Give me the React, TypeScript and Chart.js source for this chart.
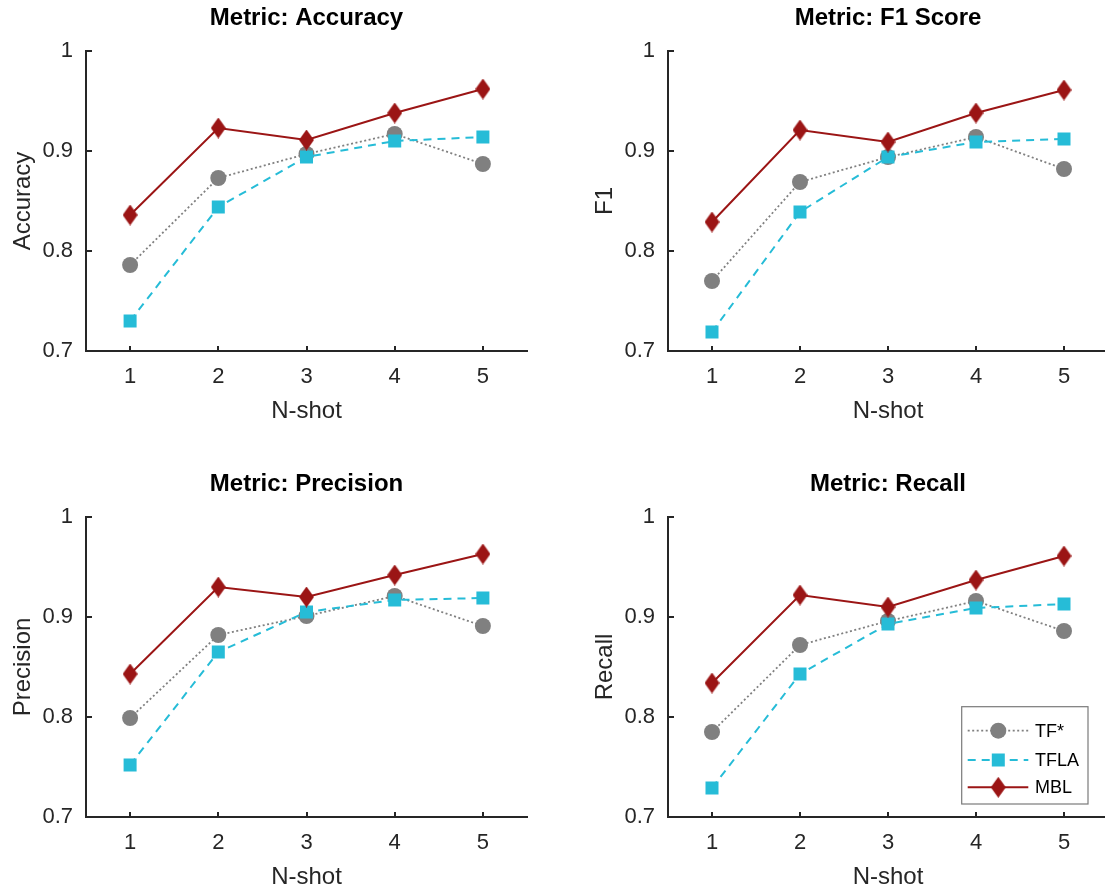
import React, { useEffect, useRef } from 'react';
import { Chart, registerables } from 'chart.js';

Chart.register(...registerables);

// ---------- data ----------
const nShot = ['1', '2', '3', '4', '5'];
const yTicks = [0.7, 0.8, 0.9, 1];
const seriesNames = ['TF*', 'TFLA', 'MBL'];

const accuracyTF = [0.786, 0.873, 0.897, 0.917, 0.887];
const accuracyTFLA = [0.730, 0.844, 0.894, 0.910, 0.914];
const accuracyMBL = [0.836, 0.923, 0.911, 0.938, 0.962];

const f1TF = [0.770, 0.869, 0.894, 0.914, 0.882];
const f1TFLA = [0.719, 0.839, 0.894, 0.909, 0.912];
const f1MBL = [0.829, 0.921, 0.909, 0.938, 0.961];

const precisionTF = [0.799, 0.882, 0.901, 0.921, 0.891];
const precisionTFLA = [0.752, 0.865, 0.905, 0.917, 0.919];
const precisionMBL = [0.843, 0.930, 0.920, 0.942, 0.963];

const recallTF = [0.785, 0.872, 0.896, 0.916, 0.886];
const recallTFLA = [0.729, 0.843, 0.893, 0.909, 0.913];
const recallMBL = [0.834, 0.922, 0.910, 0.937, 0.961];

// ---------- styles ----------
const FONT = "'Liberation Sans', Arial, Helvetica, sans-serif";
const AXIS = '#262626';
const C_TF = '#808080';
const C_TFLA = '#26BCD7';
const C_MBL = '#9B1515';
const DASH_TF = [2, 2.5];
const DASH_TFLA = [8, 6];

function makeDiamond(w: number, h: number, color: string) {
  const c = document.createElement('canvas');
  c.width = w;
  c.height = h;
  const ctx = c.getContext('2d')!;
  ctx.fillStyle = color;
  ctx.beginPath();
  ctx.moveTo(w / 2, 0);
  ctx.lineTo(w, h / 2);
  ctx.lineTo(w / 2, h);
  ctx.lineTo(0, h / 2);
  ctx.closePath();
  ctx.fill();
  return c;
}

type PanelCfg = {
  title: string;
  yLabel: string;
  tf: number[];
  tfla: number[];
  mbl: number[];
  legend: boolean;
  left: number;
  top: number;
  w: number;
  h: number;
  yW: number;
  padTop: number;
  padRight: number;
  padBottom: number;
};

const panels: PanelCfg[] = [
  { title: 'Metric: Accuracy', yLabel: 'Accuracy', tf: accuracyTF, tfla: accuracyTFLA, mbl: accuracyMBL, legend: false,
    left: 0, top: 0, w: 552, h: 445, yW: 86, padTop: 51, padRight: 25, padBottom: 34 },
  { title: 'Metric: F1 Score', yLabel: 'F1', tf: f1TF, tfla: f1TFLA, mbl: f1MBL, legend: false,
    left: 560, top: 0, w: 560, h: 445, yW: 108, padTop: 51, padRight: 12, padBottom: 34 },
  { title: 'Metric: Precision', yLabel: 'Precision', tf: precisionTF, tfla: precisionTFLA, mbl: precisionMBL, legend: false,
    left: 0, top: 445, w: 552, h: 445, yW: 86, padTop: 72, padRight: 25, padBottom: 13 },
  { title: 'Metric: Recall', yLabel: 'Recall', tf: recallTF, tfla: recallTFLA, mbl: recallMBL, legend: true,
    left: 560, top: 445, w: 560, h: 445, yW: 108, padTop: 72, padRight: 12, padBottom: 13 },
];

function drawMarker(ctx: CanvasRenderingContext2D, kind: number, x: number, y: number, diamond: HTMLCanvasElement) {
  if (kind === 0) {
    ctx.fillStyle = C_TF;
    ctx.beginPath();
    ctx.arc(x, y, 8, 0, Math.PI * 2);
    ctx.fill();
  } else if (kind === 1) {
    ctx.fillStyle = C_TFLA;
    ctx.fillRect(x - 6.5, y - 6.5, 13, 13);
  } else {
    ctx.drawImage(diamond, x - diamond.width / 2, y - diamond.height / 2);
  }
}

function Panel({ cfg }: { cfg: PanelCfg }) {
  const ref = useRef<HTMLCanvasElement>(null);
  useEffect(() => {
    const diamond = makeDiamond(15, 21, C_MBL);
    const decor = {
      id: 'decor',
      afterDraw(chart: any) {
        const ctx: CanvasRenderingContext2D = chart.ctx;
        const { left: aL, right: aR, top: aT, bottom: aB } = chart.chartArea;
        const xs = chart.scales.x;
        const ys = chart.scales.y;
        ctx.save();
        // inside tick marks
        ctx.strokeStyle = AXIS;
        ctx.lineWidth = 2;
        ctx.setLineDash([]);
        ctx.beginPath();
        yTicks.forEach((v) => {
          const py = Math.round(ys.getPixelForValue(v));
          ctx.moveTo(aL, py);
          ctx.lineTo(aL + 6, py);
        });
        nShot.forEach((_, i) => {
          const px = Math.round(xs.getPixelForTick(i));
          ctx.moveTo(px, aB);
          ctx.lineTo(px, aB - 5);
        });
        ctx.stroke();
        // title
        ctx.fillStyle = '#000';
        ctx.font = `bold 24px ${FONT}`;
        ctx.textAlign = 'center';
        ctx.textBaseline = 'alphabetic';
        ctx.fillText(cfg.title, (aL + aR) / 2, aT - 26);
        // x label
        ctx.fillStyle = AXIS;
        ctx.font = `24px ${FONT}`;
        ctx.fillText('N-shot', (aL + aR) / 2, aB + 67);
        // y label
        ctx.save();
        ctx.translate(aL - 56, (aT + aB) / 2);
        ctx.rotate(-Math.PI / 2);
        ctx.fillText(cfg.yLabel, 0, 0);
        ctx.restore();
        // legend
        if (cfg.legend) {
          const bx = aR - 146.3, by = aB - 110.3, bw = 126.3, bh = 97.3;
          ctx.fillStyle = '#fff';
          ctx.fillRect(bx, by, bw, bh);
          ctx.strokeStyle = '#7a7a7a';
          ctx.lineWidth = 1.2;
          ctx.strokeRect(bx, by, bw, bh);
          const rows = [aB - 86.3, aB - 57, aB - 29.7];
          const colors = [C_TF, C_TFLA, C_MBL];
          const dashes = [DASH_TF, DASH_TFLA, []];
          const widths = [1.8, 2, 2];
          seriesNames.forEach((name, i) => {
            const ry = rows[i];
            ctx.strokeStyle = colors[i];
            ctx.lineWidth = widths[i];
            ctx.setLineDash(dashes[i]);
            ctx.beginPath();
            ctx.moveTo(aR - 140.3, ry);
            ctx.lineTo(aR - 79.7, ry);
            ctx.stroke();
            ctx.setLineDash([]);
            drawMarker(ctx, i, aR - 109.7, ry, diamond);
            ctx.fillStyle = '#000';
            ctx.font = `18px ${FONT}`;
            ctx.textAlign = 'left';
            ctx.textBaseline = 'middle';
            ctx.fillText(name, aR - 73, ry + 1);
          });
        }
        ctx.restore();
      },
    };

    const chart = new Chart(ref.current!, {
      type: 'line',
      data: {
        labels: nShot,
        datasets: [
          {
            label: seriesNames[0],
            data: cfg.tf,
            borderColor: C_TF,
            backgroundColor: C_TF,
            borderWidth: 1.8,
            borderDash: DASH_TF,
            pointStyle: 'circle',
            pointRadius: 8,
            pointBorderWidth: 0,
            pointBackgroundColor: C_TF,
            order: 3,
          },
          {
            label: seriesNames[1],
            data: cfg.tfla,
            borderColor: C_TFLA,
            backgroundColor: C_TFLA,
            borderWidth: 2,
            borderDash: DASH_TFLA,
            pointStyle: 'rect',
            pointRadius: 9.2,
            pointBorderWidth: 0,
            pointBackgroundColor: C_TFLA,
            order: 2,
          },
          {
            label: seriesNames[2],
            data: cfg.mbl,
            borderColor: C_MBL,
            backgroundColor: C_MBL,
            borderWidth: 2,
            pointStyle: diamond as any,
            pointRadius: 10,
            pointBorderWidth: 0,
            order: 1,
          },
        ],
      },
      options: {
        animation: false,
        responsive: false,
        devicePixelRatio: 1,
        events: [],
        layout: { padding: { left: 0, top: cfg.padTop, right: cfg.padRight, bottom: cfg.padBottom } },
        plugins: {
          legend: { display: false },
          tooltip: { enabled: false },
          title: { display: false },
        },
        elements: { line: { tension: 0 } },
        scales: {
          x: {
            type: 'category',
            offset: true,
            grid: { display: false, drawTicks: false },
            border: { display: true, color: AXIS, width: 2 },
            ticks: { font: { family: FONT, size: 22 }, color: AXIS, padding: 13, maxRotation: 0, autoSkip: false },
            afterFit: (s: any) => { s.height = 60; },
          },
          y: {
            type: 'linear',
            min: 0.7,
            max: 1,
            grid: { display: false, drawTicks: false },
            border: { display: true, color: AXIS, width: 2 },
            ticks: {
              font: { family: FONT, size: 22 },
              color: AXIS,
              padding: 13,
              callback: (v: any) => String(Number(Number(v).toFixed(1))),
            },
            afterBuildTicks: (s: any) => { s.ticks = yTicks.map((v) => ({ value: v })); },
            afterFit: (s: any) => { s.width = cfg.yW; },
          },
        },
      } as any,
      plugins: [decor],
    });
    return () => chart.destroy();
  }, []);
  return (
    <canvas
      ref={ref}
      width={cfg.w}
      height={cfg.h}
      style={{ position: 'absolute', left: cfg.left, top: cfg.top, width: cfg.w, height: cfg.h }}
    />
  );
}

export default function App() {
  return (
    <div style={{ position: 'fixed', left: 0, top: 0, width: 1105, height: 890, overflow: 'hidden', background: '#fff' }}>
      {panels.map((p) => (
        <Panel key={p.title} cfg={p} />
      ))}
    </div>
  );
}
